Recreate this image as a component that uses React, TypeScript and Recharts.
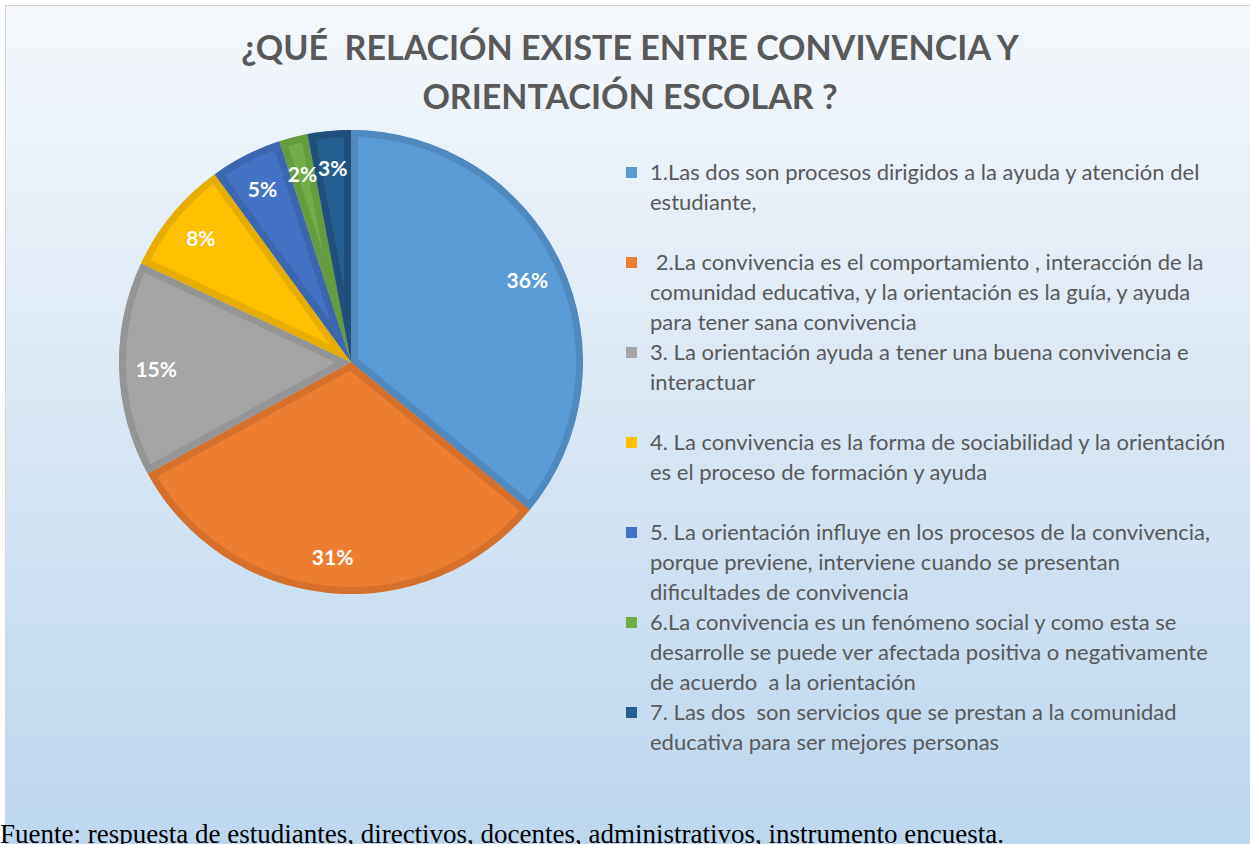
import React from 'react'
import { PieChart, Pie, Cell, Sector, Legend } from 'recharts'

const title = ['¿QUÉ  RELACIÓN EXISTE ENTRE CONVIVENCIA Y', 'ORIENTACIÓN ESCOLAR ?']

const categories = [
  '1.Las dos son procesos dirigidos a la ayuda y atención del estudiante,',
  ' 2.La convivencia es el comportamiento , interacción de la comunidad educativa, y la orientación es la guía, y ayuda para tener sana convivencia',
  '3. La orientación ayuda a tener una buena convivencia e interactuar',
  '4. La convivencia es la forma de sociabilidad y la orientación es el proceso de formación y ayuda',
  '5. La orientación influye en los procesos de la convivencia, porque previene, interviene cuando se presentan dificultades de convivencia',
  '6.La convivencia es un fenómeno social y como esta se desarrolle se puede ver afectada positiva o negativamente de acuerdo  a la orientación',
  '7. Las dos  son servicios que se prestan a la comunidad educativa para ser mejores personas',
]

const percentages = [36, 31, 15, 8, 5, 2, 3]

const fills = ['#5B9BD5', '#ED7D31', '#A5A5A5', '#FFC000', '#4472C4', '#70AD47', '#255E91']
const edges = ['#4F89BE', '#D46F2C', '#959595', '#E6AE00', '#3D66B1', '#659C40', '#214F7C']

const footer = 'Fuente: respuesta de estudiantes, directivos, docentes, administrativos, instrumento encuesta.'

const data = categories.map((name, i) => ({ name, value: percentages[i] }))

const FONT = 'Lato, "Open Sans", sans-serif'
const RAD = Math.PI / 180

// inner border: stroke twice as wide, clipped to the slice itself
const renderSlice = (props: any) => {
  const id = `slice-clip-${Math.round(props.startAngle * 100)}`
  const geom = {
    cx: props.cx,
    cy: props.cy,
    innerRadius: props.innerRadius,
    outerRadius: props.outerRadius,
    startAngle: props.startAngle,
    endAngle: props.endAngle,
  }
  return (
    <g>
      <defs>
        <clipPath id={id}>
          <Sector {...geom} />
        </clipPath>
      </defs>
      <Sector
        {...geom}
        fill={props.fill}
        stroke={props.stroke}
        strokeWidth={14}
        strokeLinejoin="round"
        clipPath={`url(#${id})`}
      />
    </g>
  )
}

const renderLabel = (p: any) => {
  const r = p.outerRadius * 0.84
  const x = p.cx + r * Math.cos(-p.midAngle * RAD)
  const y = p.cy + r * Math.sin(-p.midAngle * RAD)
  return (
    <text
      x={x}
      y={y}
      fill="#fff"
      textAnchor="middle"
      dominantBaseline="central"
      style={{ fontFamily: FONT, fontWeight: 700, fontSize: 21 }}
    >
      {p.value}%
    </text>
  )
}

const renderLegend = () => (
  <div style={{ fontFamily: FONT, fontSize: 22, color: '#595959' }}>
    {categories.map((c, i) => (
      <div key={i} style={{ display: 'flex', height: 90, alignItems: 'flex-start' }}>
        <span
          style={{
            width: 11,
            height: 11,
            background: fills[i],
            marginTop: 10,
            marginRight: 13,
            flex: 'none',
          }}
        />
        <span style={{ lineHeight: '30px', whiteSpace: 'pre-wrap', width: 580 }}>{c}</span>
      </div>
    ))}
  </div>
)

export default function App() {
  return (
    <div style={{ position: 'absolute', left: 0, top: 0, width: 1250, height: 844, overflow: 'hidden', background: '#fff' }}>
      <div
        style={{
          position: 'absolute',
          left: 5,
          top: 5,
          width: 1260,
          height: 860,
          borderLeft: '1.5px solid #d4d4d4',
          borderTop: '1.5px solid #d4d4d4',
          background: 'linear-gradient(to bottom, #f4f8fc 0%, #dae8f5 45%, #bbd6ee 100%)',
        }}
      />
      <div
        style={{
          position: 'absolute',
          left: 0,
          top: 22,
          width: 1260,
          textAlign: 'center',
          fontFamily: FONT,
          fontWeight: 700,
          fontSize: 34,
          lineHeight: '49px',
          color: '#595959',
          whiteSpace: 'pre',
        }}
      >
        {title.map((t, i) => (
          <div key={i}>{t}</div>
        ))}
      </div>
      <div style={{ position: 'absolute', left: 0, top: 0 }}>
        <PieChart width={1250} height={844} margin={{ top: 0, right: 0, bottom: 0, left: 0 }}>
          <Pie
            data={data}
            dataKey="value"
            nameKey="name"
            cx={351}
            cy={362}
            outerRadius={232}
            startAngle={90}
            endAngle={-270}
            isAnimationActive={false}
            label={renderLabel}
            labelLine={false}
            inactiveShape={renderSlice}
            activeShape={renderSlice}
            shape={renderSlice}
          >
            {data.map((d, i) => (
              <Cell key={d.name} fill={fills[i]} stroke={edges[i]} />
            ))}
          </Pie>
          <Legend
            content={renderLegend}
            wrapperStyle={{ position: 'absolute', left: 626, top: 157, width: 620 }}
          />
        </PieChart>
      </div>
      <div
        style={{
          position: 'absolute',
          left: 0,
          top: 819,
          fontFamily: '"Liberation Serif", "Times New Roman", serif',
          fontSize: 27,
          color: '#000',
          whiteSpace: 'nowrap',
        }}
      >
        {footer}
      </div>
    </div>
  )
}
